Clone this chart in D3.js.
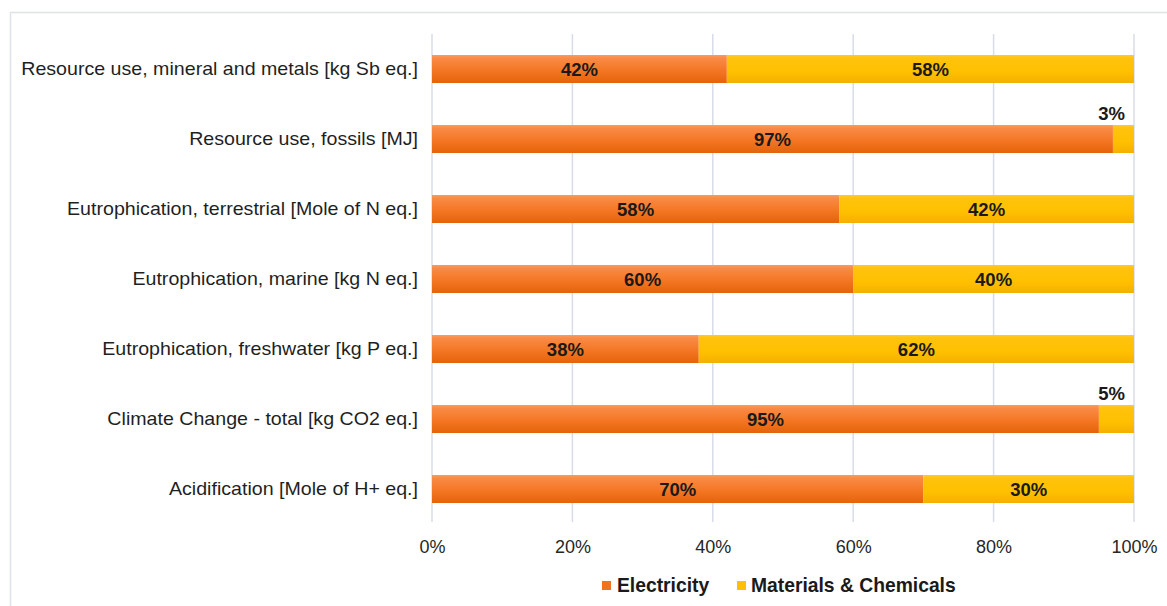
<!DOCTYPE html>
<html><head><meta charset="utf-8">
<script src="https://cdn.jsdelivr.net/npm/d3@7"></script>
<style>
html,body{margin:0;padding:0;background:#fff;}
svg{display:block;font-family:Arial,"Liberation Sans",sans-serif;}
</style></head>
<body>
<svg id="chart" width="1167" height="606"></svg>
<script>
const categories = [
  "Resource use, mineral and metals [kg Sb eq.]",
  "Resource use, fossils [MJ]",
  "Eutrophication, terrestrial [Mole of N eq.]",
  "Eutrophication, marine [kg N eq.]",
  "Eutrophication, freshwater [kg P eq.]",
  "Climate Change - total [kg CO2 eq.]",
  "Acidification [Mole of H+ eq.]"
];
const electricity = [42, 97, 58, 60, 38, 95, 70];
const materials   = [58, 3, 42, 40, 62, 5, 30];
const seriesNames = ["Electricity", "Materials & Chemicals"];
const xTicks = [0, 0.2, 0.4, 0.6, 0.8, 1.0];

const svg = d3.select("#chart");
const defs = svg.append("defs");
function grad(id, stops){
  const g = defs.append("linearGradient").attr("id", id)
    .attr("x1",0).attr("y1",0).attr("x2",0).attr("y2",1);
  stops.forEach(s => g.append("stop").attr("offset", s[0]).attr("stop-color", s[1]));
}
grad("gOrange", [["0%","#FC9A5C"],["12%","#F98A45"],["55%","#F47724"],["100%","#E4630A"]]);
grad("gYellow", [["0%","#FFCB2E"],["12%","#FFC30D"],["60%","#FFC000"],["100%","#F4B000"]]);
const fills = ["url(#gOrange)", "url(#gYellow)"];
const legendFills = ["#F0731F", "#FFC000"];

// frame
svg.append("rect").attr("x",10.5).attr("y",12.5).attr("width",1200).attr("height",700)
  .attr("fill","none").attr("stroke","#dfe3e8").attr("stroke-width",1.5);

const x = d3.scaleLinear().domain([0,1]).range([432,1134]);
const y = d3.scaleBand().domain(categories).range([34,524]).paddingInner(0.6).paddingOuter(0.3);

// gridlines
svg.append("g").selectAll("line").data(xTicks).join("line")
  .attr("x1", d => x(d)).attr("x2", d => x(d))
  .attr("y1", 34).attr("y2", 522)
  .attr("stroke", "#d8dce9").attr("stroke-width", 1.5);

// x axis labels
const xAxis = d3.axisBottom(x).tickValues(xTicks).tickFormat(d3.format(".0%")).tickSize(0).tickPadding(0);
const gx = svg.append("g").attr("transform","translate(0,524)").call(xAxis);
gx.select(".domain").remove();
gx.selectAll("text").attr("y", 29).attr("dy", null)
  .attr("font-size", 18).attr("fill", "#262626").attr("font-family","Arial, 'Liberation Sans', sans-serif");

// y axis labels
const yAxis = d3.axisLeft(y).tickSize(0).tickPadding(0);
const gy = svg.append("g").attr("transform","translate(418,0)").call(yAxis);
gy.select(".domain").remove();
gy.selectAll("text").attr("font-size", 18.5).attr("fill", "#1f1f1f")
  .attr("font-family","Arial, 'Liberation Sans', sans-serif")
  .attr("textLength", function(){ return this.getComputedTextLength() * 1.06; })
  .attr("lengthAdjust","spacingAndGlyphs");

// stacked data
const rows = categories.map((c,i) => ({cat:c, Electricity: electricity[i]/100, "Materials & Chemicals": materials[i]/100}));
const stack = d3.stack().keys(seriesNames)(rows);

stack.forEach((layer, li) => {
  const g = svg.append("g");
  g.selectAll("rect").data(layer).join("rect")
    .attr("x", d => x(d[0]))
    .attr("y", d => y(d.data.cat))
    .attr("width", d => x(Math.min(d[1],1)) - x(d[0]))
    .attr("height", y.bandwidth())
    .attr("fill", fills[li]);
  g.selectAll("text").data(layer).join("text")
    .each(function(d){
      const v = d[1]-d[0];
      const t = d3.select(this);
      t.text(Math.round(v*100) + "%")
       .attr("font-size", 18.5).attr("font-weight","bold").attr("fill","#1a1a1a");
      if (v < 0.1) {
        t.attr("x", x(1) - 9).attr("y", y(d.data.cat) - 5).attr("text-anchor","end");
      } else {
        t.attr("x", (x(d[0]) + x(Math.min(d[1],1)))/2)
         .attr("y", y(d.data.cat) + y.bandwidth()/2)
         .attr("dy","0.36em").attr("text-anchor","middle");
      }
    });
});

// legend
const legendPos = [[602, 617],[737, 751]];
const lg = svg.append("g");
seriesNames.forEach((n,i) => {
  lg.append("rect").attr("x", legendPos[i][0]).attr("y", 581).attr("width", 9).attr("height", 9)
    .attr("fill", legendFills[i]);
  lg.append("text").attr("x", legendPos[i][1]).attr("y", 592)
    .attr("font-size", 19.3).attr("font-weight","bold").attr("fill","#1a1a1a").text(n);
});
</script>
</body></html>
